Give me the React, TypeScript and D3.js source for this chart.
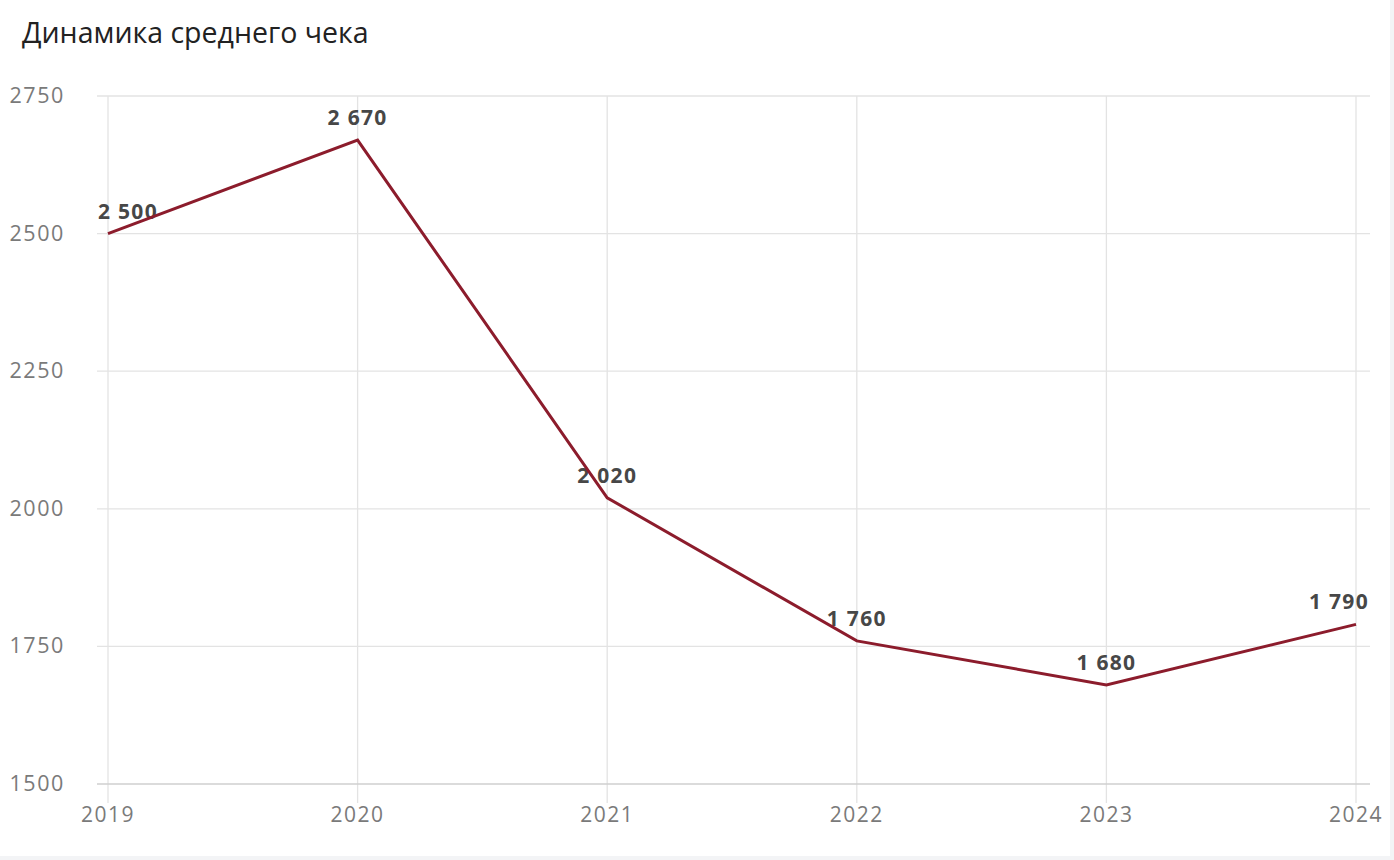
import React from "react";
import * as d3 from "d3";

const years = ["2019", "2020", "2021", "2022", "2023", "2024"];
const values = [2500, 2670, 2020, 1760, 1680, 1790];
const yTicks = [1500, 1750, 2000, 2250, 2500, 2750];
const title = "Динамика среднего чека";

const W = 1394;
const H = 860;
const FONT = "'Open Sans', 'Noto Sans', sans-serif";
const PLOT_LEFT = 97;
const PLOT_RIGHT = 1370;

export default function App() {
  const x = d3.scalePoint<string>().domain(years).range([108, 1356]);
  const y = d3.scaleLinear().domain([1500, 2750]).range([784, 96]);
  const line = d3
    .line<number>()
    .x((_, i) => x(years[i]) as number)
    .y((d) => y(d));
  const fmt = (v: number) => d3.format(",")(v).replace(/,/g, " ");
  const labelW = 62;
  const labelX = (cx: number) =>
    Math.min(Math.max(cx, PLOT_LEFT + labelW / 2), PLOT_RIGHT - labelW / 2);

  return (
    <svg
      width={W}
      height={H}
      style={{ position: "absolute", left: 0, top: 0, display: "block" }}
    >
      <rect x={0} y={0} width={W} height={H} fill="#f3f4f6" />
      <rect x={0} y={0} width={1390} height={856} fill="#ffffff" />
      <text x={22} y={43} fontFamily={FONT} fontSize={28.5} fill="#222">
        {title}
      </text>
      {years.map((yr) => (
        <line
          key={"v" + yr}
          x1={x(yr)}
          x2={x(yr)}
          y1={y(2750)}
          y2={803}
          stroke="#e3e3e3"
          strokeWidth={1.3}
        />
      ))}
      {yTicks.map((t) => (
        <line
          key={"h" + t}
          x1={PLOT_LEFT}
          x2={PLOT_RIGHT}
          y1={y(t)}
          y2={y(t)}
          stroke={t === 1500 ? "#cfcfcf" : "#e3e3e3"}
          strokeWidth={1.3}
        />
      ))}
      {yTicks.map((t) => (
        <text
          key={"yl" + t}
          x={65}
          y={y(t) + 7}
          textAnchor="end"
          fontFamily={FONT}
          fontSize={21.5}
          letterSpacing={1.6}
          fill="#7a7a7a"
        >
          {t}
        </text>
      ))}
      {years.map((yr) => (
        <text
          key={"xl" + yr}
          x={x(yr)}
          y={822}
          textAnchor="middle"
          fontFamily={FONT}
          fontSize={21}
          letterSpacing={1.5}
          fill="#7a7a7a"
        >
          {yr}
        </text>
      ))}
      {values.map((v, i) => (
        <text
          key={"vl" + i}
          x={labelX(x(years[i]) as number)}
          y={y(v) - 15}
          textAnchor="middle"
          fontFamily={FONT}
          fontSize={21}
          fontWeight={700}
          letterSpacing={1.3}
          fill="#474747"
        >
          {fmt(v)}
        </text>
      ))}
      <path
        d={line(values) || ""}
        fill="none"
        stroke="#8c1c2c"
        strokeWidth={3}
        strokeLinejoin="miter"
      />
    </svg>
  );
}
